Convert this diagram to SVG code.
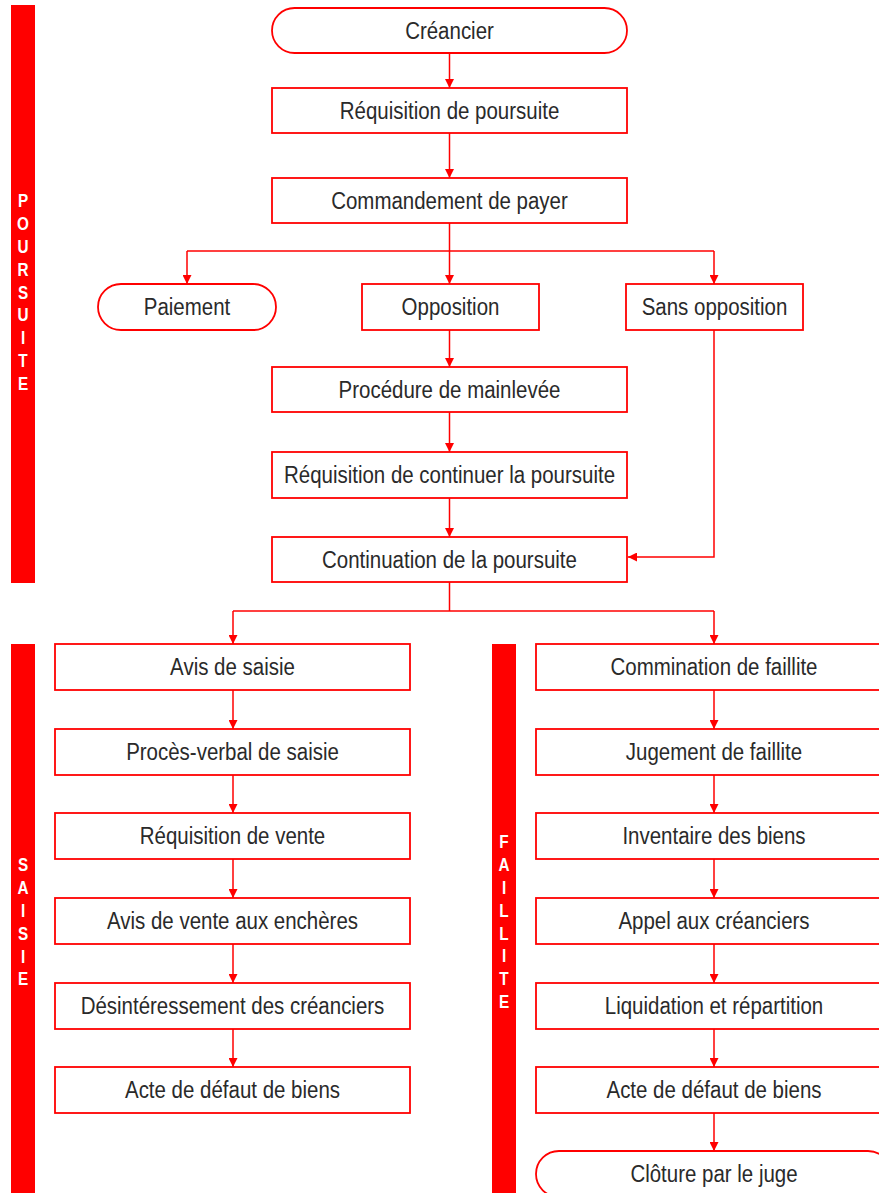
<svg xmlns="http://www.w3.org/2000/svg" width="879" height="1193" viewBox="0 0 879 1193">
<style>
.b{fill:#fff;stroke:#ff0000;stroke-width:1.8}
.t{font-family:"Liberation Sans",Arial,sans-serif;font-size:23px;fill:#2a2a2a;text-anchor:middle}
.bar{fill:#ff0000}
.lt{font-family:"Liberation Sans",Arial,sans-serif;font-size:18px;font-weight:bold;fill:#fff;text-anchor:middle}
.c{fill:none;stroke:#ff0000;stroke-width:1.5}
</style>
<defs>
<marker id="ah" viewBox="0 0 10 10" refX="10" refY="5" markerWidth="9" markerHeight="9" markerUnits="userSpaceOnUse" orient="auto">
<path d="M0,0 L10,5 L0,10 z" fill="#ff0000"/>
</marker>
</defs>
<rect width="879" height="1193" fill="#fff"/>

<g id="bar-poursuite">
<rect class="bar" x="11" y="5" width="24" height="578"/>
<text class="lt" transform="translate(23,0) scale(0.85,1)"><tspan x="0" y="207">P</tspan><tspan x="0" y="229.9">O</tspan><tspan x="0" y="252.8">U</tspan><tspan x="0" y="275.7">R</tspan><tspan x="0" y="298.6">S</tspan><tspan x="0" y="321.5">U</tspan><tspan x="0" y="344.4">I</tspan><tspan x="0" y="367.3">T</tspan><tspan x="0" y="390.2">E</tspan></text>
</g>
<g id="bar-saisie">
<rect class="bar" x="11" y="644" width="24" height="549"/>
<text class="lt" transform="translate(23,0) scale(0.85,1)"><tspan x="0" y="871">S</tspan><tspan x="0" y="893.9">A</tspan><tspan x="0" y="916.8">I</tspan><tspan x="0" y="939.7">S</tspan><tspan x="0" y="962.6">I</tspan><tspan x="0" y="985.5">E</tspan></text>
</g>
<g id="bar-faillite">
<rect class="bar" x="492" y="644" width="24" height="549"/>
<text class="lt" transform="translate(504,0) scale(0.85,1)"><tspan x="0" y="848">F</tspan><tspan x="0" y="870.9">A</tspan><tspan x="0" y="893.8">I</tspan><tspan x="0" y="916.7">L</tspan><tspan x="0" y="939.6">L</tspan><tspan x="0" y="962.5">I</tspan><tspan x="0" y="985.4">T</tspan><tspan x="0" y="1008.3">E</tspan></text>
</g>

<g id="connectors">
<path class="c" d="M449.5,53 V88" marker-end="url(#ah)"/>
<path class="c" d="M449.5,133 V178" marker-end="url(#ah)"/>
<path class="c" d="M449.5,223 V251"/>
<path class="c" d="M187,251 H714"/>
<path class="c" d="M187,251 V284" marker-end="url(#ah)"/>
<path class="c" d="M449.5,251 V284" marker-end="url(#ah)"/>
<path class="c" d="M714,251 V284" marker-end="url(#ah)"/>
<path class="c" d="M449.5,330 V367" marker-end="url(#ah)"/>
<path class="c" d="M449.5,412 V452" marker-end="url(#ah)"/>
<path class="c" d="M449.5,498 V537" marker-end="url(#ah)"/>
<path class="c" d="M714,330 V557 H628" marker-end="url(#ah)"/>
<path class="c" d="M449.5,582 V611"/>
<path class="c" d="M233,611 H714"/>
<path class="c" d="M233,611 V644" marker-end="url(#ah)"/>
<path class="c" d="M714,611 V644" marker-end="url(#ah)"/>
<path class="c" d="M233,690 V729" marker-end="url(#ah)"/>
<path class="c" d="M233,775 V813" marker-end="url(#ah)"/>
<path class="c" d="M233,859 V898" marker-end="url(#ah)"/>
<path class="c" d="M233,944 V983" marker-end="url(#ah)"/>
<path class="c" d="M233,1029 V1067" marker-end="url(#ah)"/>
<path class="c" d="M714,690 V729" marker-end="url(#ah)"/>
<path class="c" d="M714,775 V813" marker-end="url(#ah)"/>
<path class="c" d="M714,859 V898" marker-end="url(#ah)"/>
<path class="c" d="M714,944 V983" marker-end="url(#ah)"/>
<path class="c" d="M714,1029 V1067" marker-end="url(#ah)"/>
<path class="c" d="M714,1113 V1151" marker-end="url(#ah)"/>
</g>

<g id="creancier"><rect class="b" x="272" y="8" width="355" height="45" rx="22.5"/><text class="t" transform="translate(449.5,38.5) scale(0.89,1)">Créancier</text></g>
<g id="requisition-poursuite"><rect class="b" x="272" y="88" width="355" height="45"/><text class="t" transform="translate(449.5,118.5) scale(0.89,1)">Réquisition de poursuite</text></g>
<g id="commandement"><rect class="b" x="272" y="178" width="355" height="45"/><text class="t" transform="translate(449.5,208.5) scale(0.89,1)">Commandement de payer</text></g>
<g id="paiement"><rect class="b" x="98" y="284" width="178" height="46" rx="23"/><text class="t" transform="translate(187,315) scale(0.89,1)">Paiement</text></g>
<g id="opposition"><rect class="b" x="362" y="284" width="177" height="46"/><text class="t" transform="translate(450.5,315) scale(0.89,1)">Opposition</text></g>
<g id="sans-opposition"><rect class="b" x="626" y="284" width="177" height="46"/><text class="t" transform="translate(714.5,315) scale(0.89,1)">Sans opposition</text></g>
<g id="mainlevee"><rect class="b" x="272" y="367" width="355" height="45"/><text class="t" transform="translate(449.5,397.5) scale(0.89,1)">Procédure de mainlevée</text></g>
<g id="requisition-continuer"><rect class="b" x="272" y="452" width="355" height="46"/><text class="t" transform="translate(449.5,483) scale(0.89,1)">Réquisition de continuer la poursuite</text></g>
<g id="continuation"><rect class="b" x="272" y="537" width="355" height="45"/><text class="t" transform="translate(449.5,567.5) scale(0.89,1)">Continuation de la poursuite</text></g>

<g id="avis-saisie"><rect class="b" x="55" y="644" width="355" height="46"/><text class="t" transform="translate(232.5,675) scale(0.89,1)">Avis de saisie</text></g>
<g id="proces-verbal"><rect class="b" x="55" y="729" width="355" height="46"/><text class="t" transform="translate(232.5,759.5) scale(0.89,1)">Procès-verbal de saisie</text></g>
<g id="requisition-vente"><rect class="b" x="55" y="813" width="355" height="46"/><text class="t" transform="translate(232.5,844) scale(0.89,1)">Réquisition de vente</text></g>
<g id="avis-vente"><rect class="b" x="55" y="898" width="355" height="46"/><text class="t" transform="translate(232.5,929) scale(0.89,1)">Avis de vente aux enchères</text></g>
<g id="desinteressement"><rect class="b" x="55" y="983" width="355" height="46"/><text class="t" transform="translate(232.5,1014) scale(0.89,1)">Désintéressement des créanciers</text></g>
<g id="acte-saisie"><rect class="b" x="55" y="1067" width="355" height="46"/><text class="t" transform="translate(232.5,1098) scale(0.89,1)">Acte de défaut de biens</text></g>

<g id="commination"><rect class="b" x="536" y="644" width="355" height="46"/><text class="t" transform="translate(714,675) scale(0.89,1)">Commination de faillite</text></g>
<g id="jugement"><rect class="b" x="536" y="729" width="355" height="46"/><text class="t" transform="translate(714,759.5) scale(0.89,1)">Jugement de faillite</text></g>
<g id="inventaire"><rect class="b" x="536" y="813" width="355" height="46"/><text class="t" transform="translate(714,844) scale(0.89,1)">Inventaire des biens</text></g>
<g id="appel"><rect class="b" x="536" y="898" width="355" height="46"/><text class="t" transform="translate(714,929) scale(0.89,1)">Appel aux créanciers</text></g>
<g id="liquidation"><rect class="b" x="536" y="983" width="355" height="46"/><text class="t" transform="translate(714,1014) scale(0.89,1)">Liquidation et répartition</text></g>
<g id="acte-faillite"><rect class="b" x="536" y="1067" width="355" height="46"/><text class="t" transform="translate(714,1098) scale(0.89,1)">Acte de défaut de biens</text></g>
<g id="cloture"><rect class="b" x="536" y="1151" width="355" height="46" rx="23"/><text class="t" transform="translate(714,1182) scale(0.89,1)">Clôture par le juge</text></g>
</svg>
